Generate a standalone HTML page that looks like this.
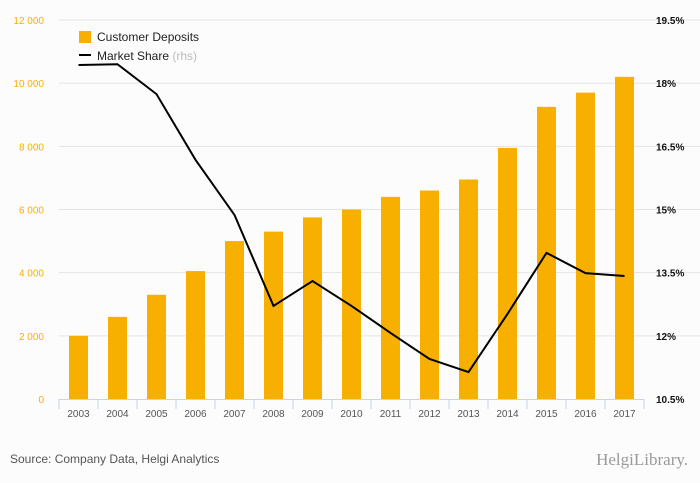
<!DOCTYPE html>
<html><head><meta charset="utf-8"><style>
body{margin:0;background:#fcfcfc;font-family:"Liberation Sans",sans-serif}
svg{display:block}
</style></head><body>
<svg width="700" height="483" id="c">
<rect x="0" y="0" width="700" height="483" fill="#fcfcfc"/>
<g id="grid"></g><g id="bars"></g><g id="axes"></g><g id="line"></g>
<g>
<rect x="79" y="31" width="12" height="12" fill="#f8b000"/>
<text x="97" y="41" font-size="12" fill="#222">Customer Deposits</text>
<line x1="79" y1="55" x2="91" y2="55" stroke="#000" stroke-width="2"/>
<text x="97" y="60" font-size="12" fill="#222">Market Share <tspan fill="#bbb">(rhs)</tspan></text>
</g>
<text x="10" y="463" font-size="12" fill="#555">Source: Company Data, Helgi Analytics</text>
<text x="688" y="465" font-size="17" fill="#999" text-anchor="end" font-family="Liberation Serif,serif">HelgiLibrary.</text>
</svg>
<script>
const years=["2003","2004","2005","2006","2007","2008","2009","2010","2011","2012","2013","2014","2015","2016","2017"];
const deposits=[2000,2600,3300,4050,5000,5300,5750,6000,6400,6600,6950,7950,9250,9700,10200];
const share=[18.43,18.45,17.74,16.18,14.87,12.71,13.3,12.71,12.07,11.45,11.14,12.52,13.97,13.49,13.42];
const leftTicks=[0,2000,4000,6000,8000,10000,12000];
const leftLabels=["0","2 000","4 000","6 000","8 000","10 000","12 000"];
const rightTicks=[10.5,12,13.5,15,16.5,18,19.5];
const rightLabels=["10.5%","12%","13.5%","15%","16.5%","18%","19.5%"];
const NS="http://www.w3.org/2000/svg";
const X0=59,X1=644,Y0=399,Y1=20;
const bw=(X1-X0)/years.length;
const xc=i=>X0+bw*(i+0.5);
const yl=v=>Y0-(v/12000)*(Y0-Y1);
const yr=v=>Y0-((v-10.5)/9)*(Y0-Y1);
function mk(t,a,p){const e=document.createElementNS(NS,t);for(const k in a)e.setAttribute(k,a[k]);p.appendChild(e);return e;}
const grid=document.getElementById('grid'),bars=document.getElementById('bars'),axes=document.getElementById('axes'),line=document.getElementById('line');
leftTicks.forEach((v,i)=>{
 if(i>0){const g=mk('line',{x1:X0,x2:X1+56,y1:yl(v),y2:yl(v),stroke:'#e4e4e4'},grid);
 
 }
 const t=mk('text',{x:44,y:yl(v)+4,'font-size':10,fill:'#f8b000','text-anchor':'end'},axes);t.textContent=leftLabels[i];
 
 
});
rightTicks.forEach((v,i)=>{
 const t=mk('text',{x:656,y:yr(v)+4,'font-size':10,fill:'#111','font-weight':'bold'},axes);t.textContent=rightLabels[i];
 
 
});
deposits.forEach((v,i)=>{
 const r=mk('rect',{x:xc(i)-9.5,y:yl(v),width:19,height:Y0-yl(v),fill:'#f8b000'},bars);
 
 
});
const base=mk('line',{x1:X0,x2:X1,y1:Y0+0.5,y2:Y0+0.5,stroke:'#c8d4e8'},axes);


years.forEach((y,i)=>{
 const tk=mk('line',{x1:X0+bw*i,x2:X0+bw*i,y1:Y0,y2:Y0+10,stroke:'#c8d4e8'},axes);
 
 
 const t=mk('text',{x:xc(i),y:Y0+18,'font-size':10,fill:'#555','text-anchor':'middle'},axes);t.textContent=y;
 
 
});
const tk2=mk('line',{x1:X1,x2:X1,y1:Y0,y2:Y0+10,stroke:'#c8d4e8'},axes);


const p=mk('polyline',{points:share.map((v,i)=>xc(i)+','+yr(v)).join(' '),fill:'none',stroke:'#000','stroke-width':2},line);


</script>
</body></html>
